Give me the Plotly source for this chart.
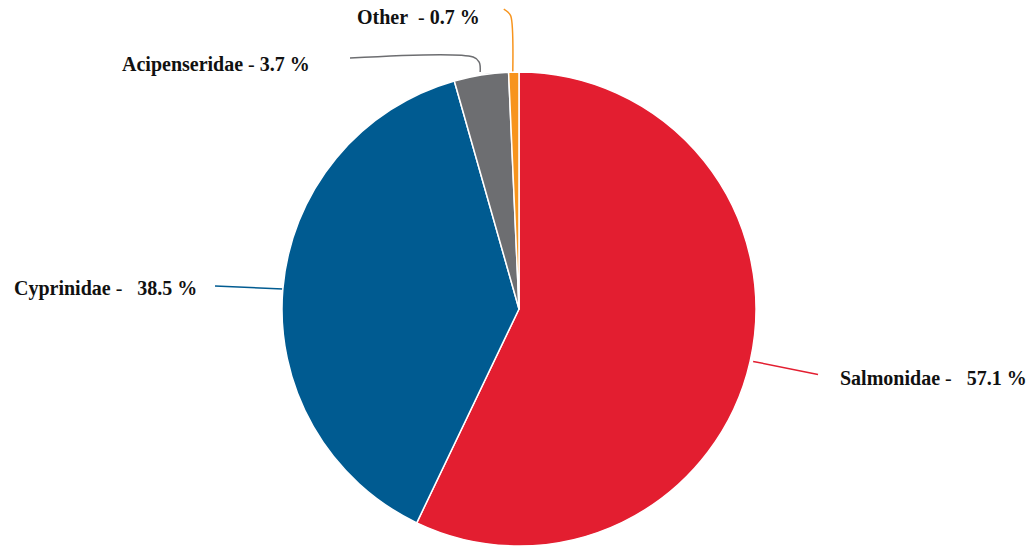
import math
import plotly.graph_objects as go

# Share of production by family (%)
families = ['Salmonidae', 'Cyprinidae', 'Acipenseridae', 'Other']
shares = [57.1, 38.5, 3.7, 0.7]
colors = ['#E31E30', '#005B91', '#6D6E71', '#F7941D']

W, H = 1032, 546
cx, cy, r = 519, 309, 237

# label text placement (pixels) and spaces around the dash
label_pos = {
    'Salmonidae': (838, 378, 1, 3),
    'Cyprinidae': (12, 288, 1, 3),
    'Acipenseridae': (120, 64, 1, 1),
    'Other': (355, 17, 2, 1),
}
sp = '\u00a0'


def slice_edge(i):
    # midpoint angle of slice i, clockwise from 12 o'clock
    start = sum(shares[:i]) / sum(shares) * 360
    mid = start + shares[i] / sum(shares) * 180
    a = math.radians(mid)
    return cx + r * math.sin(a), cy - r * math.cos(a)


fig = go.Figure()

fig.add_trace(go.Pie(
    labels=families,
    values=shares,
    sort=False,
    direction='clockwise',
    rotation=0,
    textinfo='none',
    hoverinfo='label+percent',
    marker=dict(colors=colors, line=dict(color='white', width=1.5)),
    domain=dict(x=[(cx - r) / W, (cx + r) / W], y=[1 - (cy + r) / H, 1 - (cy - r) / H]),
    showlegend=False,
))

# leader lines
for i, fam in enumerate(families):
    x0, y0 = slice_edge(i)
    if fam == 'Salmonidae':
        xs, ys = [x0 + 3, 818], [y0, y0 + 13]
        shape = 'linear'
    elif fam == 'Cyprinidae':
        xs, ys = [x0, 215], [y0, y0 - 3]
        shape = 'linear'
    elif fam == 'Acipenseridae':
        xs, ys = [x0 - 1, x0 - 2, x0 - 8, 350], [y0 - 3, y0 - 13, y0 - 18, y0 - 17]
        shape = 'spline'
    else:
        xs, ys = [x0 - 1, x0 - 3, x0 - 6, x0 - 10], [y0, y0 - 56, y0 - 60, y0 - 63]
        shape = 'spline'
    fig.add_trace(go.Scatter(
        x=xs, y=ys, mode='lines', xaxis='x', yaxis='y',
        line=dict(color=colors[i], width=1.5, shape=shape),
        hoverinfo='skip', showlegend=False,
    ))
    lx, ly, nb, na = label_pos[fam]
    fig.add_annotation(
        x=lx, y=ly, xref='x', yref='y', xanchor='left', yanchor='middle',
        text=f'<b>{fam}</b>{sp * nb}-{sp * na}<b>{shares[i]} %</b>',
        showarrow=False,
        font=dict(family='Liberation Serif, Times New Roman, serif', size=20, color='#111111'),
    )

fig.update_layout(
    width=W, height=H,
    margin=dict(l=0, r=0, t=0, b=0),
    paper_bgcolor='white',
    plot_bgcolor='rgba(0,0,0,0)',
    xaxis=dict(range=[0, W], visible=False, fixedrange=True),
    yaxis=dict(range=[H, 0], visible=False, fixedrange=True),
)

fig.write_html('out.html', config={'displayModeBar': False},
               post_script="document.body.style.margin='0';")
